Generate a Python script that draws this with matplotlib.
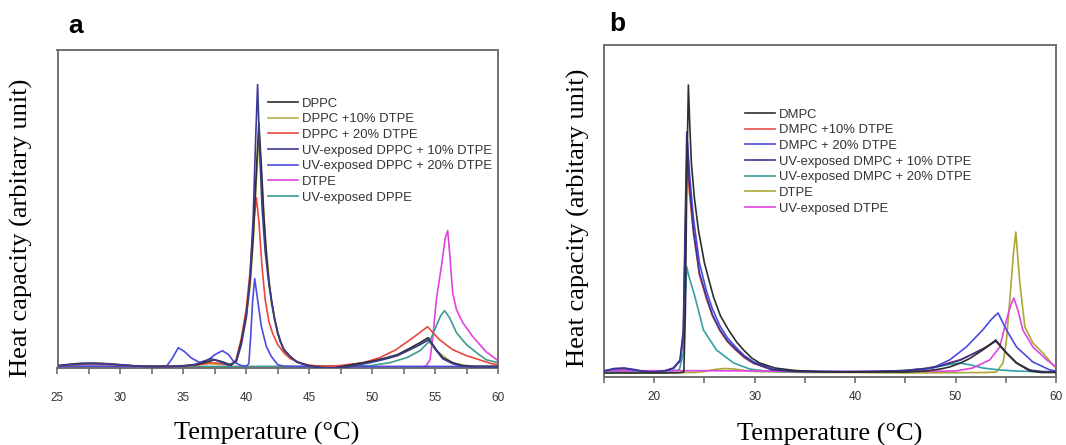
import matplotlib
matplotlib.use("Agg")
import matplotlib.pyplot as plt
from matplotlib.ticker import MultipleLocator

# ---- panel a: DPPC series (temperature in C, heat capacity in arbitrary units) ----
a_labels = ["DPPC", "DPPC +10% DTPE", "DPPC + 20% DTPE",
            "UV-exposed DPPC + 10% DTPE", "UV-exposed DPPC + 20% DTPE",
            "DTPE", "UV-exposed DPPE"]
a_colors = ["#2e2e2e", "#b4b04a", "#e8483e", "#3a3a92", "#4c4cdc", "#e044e0", "#3c9a8c"]

a_dppc_x = [25, 26, 27, 28, 29, 30, 31, 32, 33, 34, 35, 36, 36.8, 37.5, 38.2, 38.8, 39.2, 39.6,
            40.0, 40.3, 40.55, 40.8, 41.0, 41.2, 41.4, 41.6, 41.8, 42.0, 42.25, 42.5, 42.75, 43.0,
            43.5, 44.0, 44.5, 45.0, 46.0, 47.0, 48.0, 49.0, 50.0, 51.0, 52.0, 53.0, 53.8, 54.45,
            55.1, 55.6, 56.4, 57.2, 58.0, 59.0, 60.0]
a_dppc_y = [1.0, 2.5, 3.5, 3.5, 3.0, 2.0, 1.0, 0.3, 0.2, 0.3, 0.8, 2.0, 4.5, 7.0, 4.5, 1.5, 6, 25,
            52, 85, 130, 195, 244, 200, 150, 112, 85, 67, 48, 34, 24, 17,
            10, 5, 3, 1, -1.0, -1.2, 1.0, 3.5, 5.5, 8.5, 12, 18.5, 24, 29,
            17, 9, 4, 1, 0.3, 0.2, 0.2]

a_dppc10_x = [25, 28, 31, 34, 37, 38.5, 39.2, 39.6, 40.0, 40.3, 40.55, 40.8, 41.0, 41.2, 41.5,
              42.0, 42.5, 43.0, 44.0, 45.0, 48.0, 50.0, 52.0, 53.8, 54.4, 55.1, 56.4, 58.0, 60.0]
a_dppc10_y = [0.8, 3.0, 0.8, 0.3, 3.0, 2.0, 5, 22, 48, 80, 125, 185, 230, 190, 130,
              62, 32, 15, 4.5, 0.8, 0.8, 5, 11, 22, 27, 16, 3.5, 0.3, 0.2]

a_dppc20_x = [25, 27, 28, 30, 32, 34, 36, 37.2, 38.2, 38.8, 39.2, 39.6, 40.0, 40.3, 40.55, 40.8,
              41.0, 41.25, 41.5, 41.8, 42.1, 42.5, 43.05, 43.5, 44.4, 45.0, 46.0, 47.0, 48.0,
              49.3, 50.6, 51.9, 53.25, 54.4, 55.35, 56.4, 57.5, 58.5, 59.5, 60.0]
a_dppc20_y = [0.8, 2.5, 2.8, 1.5, 0.3, 0.2, 1.5, 4.0, 3.0, 1.5, 7, 28, 58, 95, 140, 169,
              145, 100, 67, 45, 33, 22, 13, 8, 3, 1.5, 0.5, 0.5, 2,
              4, 9, 17, 29, 40, 27, 17, 11, 7, 3, 2]

a_uv10_x = [25, 26, 27, 28, 29, 30, 31, 32, 34, 35, 36, 36.6, 37.2, 37.9, 38.6, 39.2, 39.6, 40.0,
            40.3, 40.55, 40.75, 40.9, 41.05, 41.25, 41.5, 41.8, 42.0, 42.25, 42.5, 42.75, 43.0,
            43.5, 44.0, 44.5, 45.0, 46.0, 47.0, 48.0, 49.0, 50.0, 51.0, 52.0, 53.0, 53.8, 54.5,
            55.1, 55.6, 56.4, 57.2, 58.0, 60.0]
a_uv10_y = [0.8, 2.0, 3.0, 3.2, 2.8, 1.8, 0.8, 0.2, 0.2, 0.5, 2.5, 5.5, 8.0, 5.0, 1.5, 5, 22, 50,
            90, 150, 230, 282, 220, 160, 115, 82, 66, 48, 34, 24, 17,
            10, 5, 2.5, 0.5, -1.0, -1.2, -0.5, 2, 4.5, 7.5, 11, 17, 22, 27,
            16, 8, 3, 0.5, 0, 0]

a_uv20_x = [25, 28, 31, 33, 33.7, 34.1, 34.6, 35.1, 35.6, 36.3, 36.9, 37.5, 38.1, 38.6, 39.0, 39.5,
            40.0, 40.2, 40.35, 40.5, 40.67, 40.9, 41.2, 41.6, 42.0, 42.5, 43.0, 44.0, 50.0, 60.0]
a_uv20_y = [0.3, 0.5, 0.3, 0.2, 1, 8, 19, 15, 9, 4, 6, 12, 16, 12, 5, 1.5,
            0.5, 3, 30, 65, 88, 67, 40, 20, 10, 2, 0.5, 0.2, 0.2, 0.3]

a_dtpe_x = [25, 30, 35, 40, 45, 50, 54.0, 54.3, 54.6, 54.85, 55.1, 55.5, 55.8, 56.0, 56.15, 56.4,
            56.7, 57.2, 58.0, 59.05, 60.0]
a_dtpe_y = [0, 0, 0, 0, 0, 0, 0, 1, 7, 33, 67, 100, 128, 136, 115, 74,
            57, 44, 30, 15, 6]

a_uvdppe_x = [25, 30, 35, 40, 45, 48, 49.85, 51.4, 52.75, 53.8, 54.6, 55.1, 55.45, 55.75, 56.15,
              56.7, 57.5, 58.3, 59.05, 60.0]
a_uvdppe_y = [0.2, 0.2, 0.2, 0.2, 0.3, 0.5, 1, 4, 9, 16, 26, 41, 51, 56, 49,
              34, 22, 14, 7, 4]

# ---- panel b: DMPC series ----
b_labels = ["DMPC", "DMPC +10% DTPE", "DMPC + 20% DTPE",
            "UV-exposed DMPC + 10% DTPE", "UV-exposed DMPC + 20% DTPE",
            "DTPE", "UV-exposed DTPE"]
b_colors = ["#2e2e2e", "#e8504a", "#4a4ae0", "#363690", "#34a0a0", "#aaa834", "#e044e0"]

b_dmpc_x = [15, 18, 21, 22.5, 22.95, 23.1, 23.25, 23.4, 23.55, 23.7, 24.0, 24.4, 25.0, 25.9, 26.6,
            27.4, 28.2, 28.9, 29.7, 30.5, 32, 34, 36, 40, 45, 47, 48.5, 49.4, 50.5, 51.5, 52.7,
            53.4, 54.0, 55.07, 56.07, 57.4, 58.5, 60]
b_dmpc_y = [0, 0, 0, 0.3, 1, 60, 200, 288, 245, 210, 175, 143, 110, 76, 57,
            43, 31, 23, 15, 10, 5, 2.5, 1.5, 1, 1, 2, 4, 6, 10, 15, 23,
            28, 33, 20, 10, 2, 0.5, 0.5]

b_dmpc10_x = [15, 16, 17, 18, 19, 20, 21, 21.9, 22.57, 22.9, 23.07, 23.25, 23.5, 23.9, 24.5, 25.2,
              25.8, 26.55, 27.3, 28.2, 29.0, 29.9, 31.8, 34, 38, 42, 45, 47, 48.5, 49.5, 50.5,
              51.5, 52.7, 53.4, 54.0, 55.07, 56.07, 57.4, 58.5, 60]
b_dmpc10_y = [1.5, 3.5, 4, 3, 1.2, 1, 2, 4.5, 12, 40, 130, 215, 180, 140, 98, 74,
              57, 42, 31, 22, 15, 9.5, 3, 1.5, 1, 1.5, 2.5, 4.5, 7.5, 10.5, 13.5,
              18, 24, 28.5, 32, 20, 10, 2.5, 1.2, 1]

b_dmpc20_x = [15, 16, 17, 18, 19, 20, 21, 21.9, 22.57, 22.9, 23.07, 23.3, 23.55, 23.9, 24.5, 25.2,
              25.8, 26.55, 27.3, 28.2, 29.0, 29.9, 31.8, 34, 38, 42, 45.7, 47.7, 49.4, 51.07,
              52.7, 53.6, 54.23, 55.07, 56.07, 57.7, 59.4, 60]
b_dmpc20_y = [2, 4, 4.5, 3, 1.5, 1.2, 2, 4.5, 12, 35, 120, 232, 195, 155, 110, 82,
              64, 47, 35, 25, 17, 11, 4, 2, 1.5, 1.5, 2, 5, 13, 26,
              43, 54, 60, 43, 26, 11, 3, 2]

b_uv10_x = [15, 16, 17, 18, 19, 20, 21, 21.9, 22.57, 22.9, 23.07, 23.24, 23.5, 23.9, 24.5, 25.2,
            25.8, 26.55, 27.3, 28.2, 29.0, 29.9, 31.8, 34, 38, 42, 45, 47, 48.5, 49.5, 50.5,
            51.5, 52.7, 53.4, 54.0, 55.07, 56.07, 57.4, 58.5, 60]
b_uv10_y = [2, 4.5, 5, 3.5, 1.5, 1, 2, 5, 13, 43, 143, 241, 190, 143, 100, 76,
            58, 43, 32, 23, 16, 10, 3, 1.5, 1, 1.5, 2.5, 4.5, 7, 10, 13,
            18, 24, 28, 32, 20, 10, 3, 1.5, 1]

b_uv20_x = [15, 18, 21, 22.5, 22.9, 23.07, 23.24, 23.5, 24.06, 24.9, 26.2, 27.9, 29.5, 31, 35, 40,
            44.4, 47.7, 49, 50.4, 51.5, 52.7, 54.4, 56, 57.7, 60]
b_uv20_y = [1.5, 1.5, 1.5, 3, 20, 70, 106, 95, 76, 43, 23, 10, 4, 2, 1, 1,
            2, 5, 8, 10, 8, 5, 3, 2, 1.5, 1]

b_dtpe_x = [15, 20, 24, 25, 26, 27, 28, 29, 30, 35, 40, 45, 50, 53, 54.07, 54.73, 55.07, 55.4,
            55.75, 56.0, 56.2, 56.4, 56.9, 57.7, 58.7, 59.7, 60]
b_dtpe_y = [0.5, 0.5, 0.5, 1.5, 3.5, 4.5, 4, 2.5, 1.5, 0.5, 0.5, 0, 0.3, 0.5, 1, 10, 33, 73,
            118, 141, 115, 90, 46, 30, 20, 8, 5]

b_uvdtpe_x = [15, 20, 25, 30, 35, 40, 45, 48, 50, 51.7, 53.4, 54.4, 55.07, 55.5, 55.8, 56.2, 56.7,
              57.7, 59.1, 60]
b_uvdtpe_y = [2.3, 2.3, 2.3, 2, 1.5, 1.5, 1.5, 1.8, 2, 5, 13, 26, 53, 68, 75, 63, 43,
              26, 13, 6]

a_series = [(a_dppc_x, a_dppc_y), (a_dppc10_x, a_dppc10_y), (a_dppc20_x, a_dppc20_y),
            (a_uv10_x, a_uv10_y), (a_uv20_x, a_uv20_y), (a_dtpe_x, a_dtpe_y),
            (a_uvdppe_x, a_uvdppe_y)]
a_zorder = [5, 1, 4, 6, 3, 2, 2]
b_series = [(b_dmpc_x, b_dmpc_y), (b_dmpc10_x, b_dmpc10_y), (b_dmpc20_x, b_dmpc20_y),
            (b_uv10_x, b_uv10_y), (b_uv20_x, b_uv20_y), (b_dtpe_x, b_dtpe_y),
            (b_uvdtpe_x, b_uvdtpe_y)]
b_zorder = [6, 2, 4, 5, 3, 2, 3]

W, H = 1066, 445
fig = plt.figure(figsize=(W / 100, H / 100), dpi=100)

serif = "Liberation Serif"
sans = "Liberation Sans"
spine_col = "#707070"


def style_axes(ax, xmin, major, minor, labelled, pad):
    for s in ax.spines.values():
        s.set_color(spine_col)
        s.set_linewidth(1.4)
    ax.set_yticks([])
    ax.set_xlim(xmin, 60)
    ax.xaxis.set_major_locator(MultipleLocator(major))
    ax.xaxis.set_minor_locator(MultipleLocator(minor))
    ax.tick_params(axis="x", which="both", direction="out", color=spine_col, width=1.2,
                   length=4, labelsize=8.5, labelcolor="#333333", pad=pad)
    ax.set_xticks(labelled)
    for t in ax.get_xticklabels():
        t.set_fontfamily(sans)
    ax.set_xlabel("Temperature (\u00b0C)", fontfamily=serif, fontsize=19, va="top")
    ax.set_ylabel("Heat capacity (arbitary unit)", fontfamily=serif, fontsize=19)


def add_legend(ax, top_px, left_px):
    leg = ax.legend(loc="upper left", bbox_to_anchor=(left_px / W, 1 - top_px / H),
                    bbox_transform=fig.transFigure, frameon=False, borderpad=0,
                    borderaxespad=0, handlelength=2.3, handletextpad=0.3, labelspacing=0.27,
                    prop={"family": sans, "size": 9.4})
    for t in leg.get_texts():
        t.set_color("#333333")


# panel a
axa = fig.add_axes([57.5 / W, 1 - 368 / H, (498 - 57.5) / W, (368 - 49.5) / H])
for (x, y), lab, c, z in zip(a_series, a_labels, a_colors, a_zorder):
    axa.plot(x, y, color=c, lw=1.2, label=lab, zorder=z)
axa.set_ylim(-1.3, 317)
style_axes(axa, 25, 5, 2.5, [25, 30, 35, 40, 45, 50, 55, 60], pad=13)
axa.yaxis.set_label_coords(-0.055, 0.44)
axa.xaxis.set_label_coords(0.476, -0.168)
add_legend(axa, 97.5, 268)

# panel b
axb = fig.add_axes([604 / W, 1 - 377 / H, (1056 - 604) / W, (377 - 45) / H])
for (x, y), lab, c, z in zip(b_series, b_labels, b_colors, b_zorder):
    axb.plot(x, y, color=c, lw=1.2, label=lab, zorder=z)
axb.set_ylim(-4, 328)
style_axes(axb, 15, 10, 5, [20, 30, 40, 50, 60], pad=6)
axb.yaxis.set_label_coords(-0.03, 0.48)
axb.xaxis.set_label_coords(0.5, -0.138)
add_legend(axb, 108.5, 745)

fig.text(76 / W, 1 - 26 / H, "a", fontfamily=sans, fontweight="bold", fontsize=19,
         ha="center", va="center")
fig.text(617 / W, 1 - 24 / H, "b", fontfamily=sans, fontweight="bold", fontsize=19,
         ha="center", va="center")

fig.savefig("out.png", dpi=100)
